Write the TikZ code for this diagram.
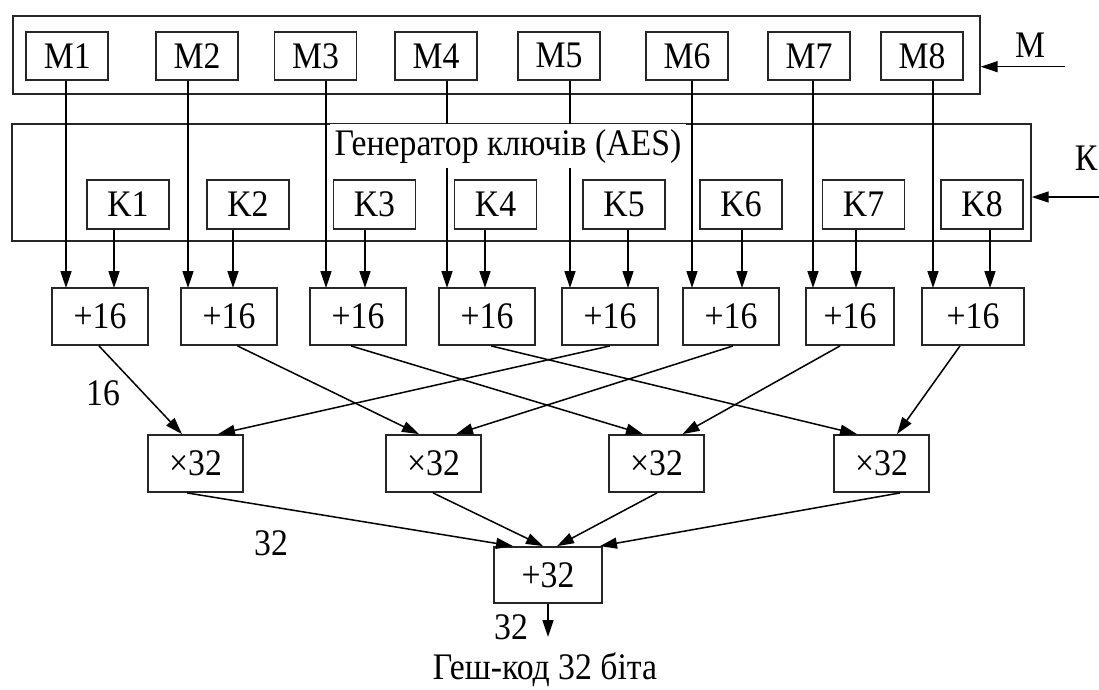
\documentclass[tikz,border=0pt]{standalone}
\usepackage{fontspec}
\setmainfont[FakeStretch=0.9]{Liberation Serif}
\usetikzlibrary{arrows.meta,calc}
\begin{document}
\begin{tikzpicture}[x=1pt,y=-1pt,
  txt/.style={font=\fontsize{37.5}{42}\selectfont},
  blk/.style={draw=black!85, line width=1.8pt, inner sep=0pt, txt},
  mbox/.style={blk, minimum width=82pt, minimum height=48pt},
  kbox/.style={blk, minimum width=82pt, minimum height=49pt},
  pbox/.style={blk, minimum height=57pt},
  xbox/.style={blk, minimum width=95pt, minimum height=57pt},
  arr/.style={-{Triangle[length=17pt,width=11pt]}, line width=1.5pt}]
\useasboundingbox (0,0) rectangle (1099,689);

% outer blocks
\node[blk, minimum width=967pt, minimum height=78pt] (Mbox) at (496.3,55) {};
\node[blk, minimum width=1019pt, minimum height=117pt] (Kbox) at (521.3,182.3) {};

% M boxes
\foreach \i/\x in {1/67.3,2/197,3/315.5,4/436,5/559,6/687,7/809,8/922}
  \node[mbox] (M\i) at (\x,55.8) {M\i};
% K boxes
\foreach \i/\x in {1/128,2/248,3/374.5,4/495.5,5/624,6/741,7/863.5,8/982}
  \node[kbox] (K\i) at (\x,204.5) {K\i};

% +16 boxes
\node[pbox, minimum width=96pt] (P1) at (100,316.5) {+16};
\node[pbox, minimum width=96pt] (P2) at (229,316.5) {+16};
\node[pbox, minimum width=96pt] (P3) at (358,316.5) {+16};
\node[pbox, minimum width=95.5pt] (P4) at (487,316.5) {+16};
\node[pbox, minimum width=95.6pt] (P5) at (610,316.5) {+16};
\node[pbox, minimum width=95.3pt] (P6) at (731,316.5) {+16};
\node[pbox, minimum width=88pt] (P7) at (850,316.5) {+16};
\node[pbox, minimum width=102pt] (P8) at (973,316.5) {+16};

% x32 boxes
\node[xbox] (X1) at (195.5,463.5) {×32};
\node[xbox] (X2) at (433.5,463.5) {×32};
\node[xbox] (X3) at (656.5,463.5) {×32};
\node[xbox] (X4) at (881.5,463.5) {×32};

% +32 box
\node[blk, minimum width=108pt, minimum height=56pt] (S) at (548,575) {+32};

% vertical arrows M -> +16
\foreach \i/\x in {1/66,2/188,3/326,4/447,5/570,6/692,7/813,8/933}{
  \coordinate (m\i) at (\x,288);
  \draw[arr] (M\i.south -| m\i) -- (m\i);
}
% vertical arrows K -> +16
\foreach \i/\x in {1/114,2/233,3/365,4/485,5/628,6/742,7/856,8/990}{
  \coordinate (k\i) at (\x,288);
  \draw[arr] (K\i.south -| k\i) -- (k\i);
}

% generator label (covers frame and lines)
\node[fill=white, inner sep=0pt, minimum width=356pt, minimum height=44pt, txt] (gen) at (508,146) {Генератор ключів (AES)};

% input arrows
\coordinate (min) at (1065,66.7);
\coordinate (kin) at (1099,197);
\draw[arr] (min) -- (Mbox.east |- min);
\draw[arr] (kin) -- (Kbox.east |- kin);
\node[txt] (Mlab) at (1030,45) {М};
\node[txt] (Klab) at (1086,158) {К};

% +16 -> x32
\draw[arr] ([xshift=-1pt]P1.south) -- ([xshift=-13.5pt]X1.north);
\draw[arr] ([xshift=0pt]P5.south) -- ([xshift=22.5pt]X1.north);
\draw[arr] ([xshift=8.5pt]P2.south) -- ([xshift=-14.5pt]X2.north);
\draw[arr] ([xshift=2pt]P6.south) -- ([xshift=22.5pt]X2.north);
\draw[arr] ([xshift=-7pt]P3.south) -- ([xshift=-13.5pt]X3.north);
\draw[arr] ([xshift=-10pt]P7.south) -- ([xshift=26pt]X3.north);
\draw[arr] ([xshift=4pt]P4.south) -- ([xshift=-24.5pt]X4.north);
\draw[arr] ([xshift=-13pt]P8.south) -- ([xshift=15.5pt]X4.north);

% x32 -> +32
\draw[arr] ([xshift=-8.5pt]X1.south) -- ([xshift=-35pt]S.north);
\draw[arr] ([xshift=-0.5pt]X2.south) -- ([xshift=-5pt]S.north);
\draw[arr] ([xshift=0.5pt]X3.south) -- ([xshift=9pt]S.north);
\draw[arr] ([xshift=18.5pt]X4.south) -- ([xshift=52pt]S.north);

% output
\coordinate (out) at (548,637);
\draw[arr] (S.south) -- (out);

% labels
\node[txt] (l16) at (103,393) {16};
\node[txt] (l32a) at (271,543) {32};
\node[txt] (l32b) at (511,627) {32};
\node[txt] (res) at (545,670) {Геш-код 32 біта};
\end{tikzpicture}
\end{document}
